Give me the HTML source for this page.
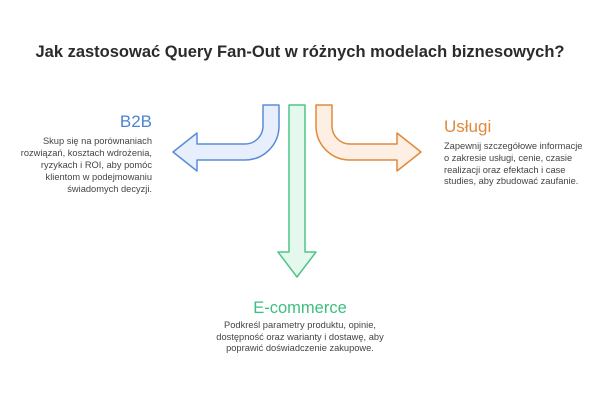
<!DOCTYPE html>
<html><head><meta charset="utf-8"><style>
html,body{margin:0;padding:0;background:#fff;}
svg{display:block;font-family:"Liberation Sans",sans-serif;}
</style></head><body>
<svg width="600" height="402" viewBox="0 0 600 402" xmlns="http://www.w3.org/2000/svg">
<rect width="600" height="402" fill="#fff"/>
<text x="300" y="57" text-anchor="middle" font-size="16.5" font-weight="bold" fill="#2b2b2b">Jak zastosować Query Fan-Out w różnych modelach biznesowych?</text>
<!-- blue arrow -->
<path d="M263,105 L279,105 L279,126 A34,34 0 0 1 245,160 L197,160 L197,171 L173,152 L197,133 L197,144 L245,144 A18,18 0 0 0 263,126 Z" fill="#e8effc" stroke="#5b8bd8" stroke-width="1.5" stroke-linejoin="round"/>
<!-- orange arrow -->
<path d="M332,105 L316,105 L316,126 A34,34 0 0 0 350,160 L397,160 L397,171 L421,152 L397,133 L397,144 L350,144 A18,18 0 0 1 332,126 Z" fill="#fdefe4" stroke="#e08a3c" stroke-width="1.5" stroke-linejoin="round"/>
<!-- green arrow -->
<path d="M289,105 L305,105 L305,252 L316,252 L297,277 L278,252 L289,252 Z" fill="#e4f8ee" stroke="#4fc487" stroke-width="1.5" stroke-linejoin="round"/>
<text x="152" y="127" text-anchor="end" font-size="17" fill="#4a84d6">B2B</text>
<g font-size="9.3" fill="#444" text-anchor="end">
<text x="152" y="144">Skup się na porównaniach</text>
<text x="152" y="156">rozwiązań, kosztach wdrożenia,</text>
<text x="152" y="168">ryzykach i ROI, aby pomóc</text>
<text x="152" y="180">klientom w podejmowaniu</text>
<text x="152" y="192">świadomych decyzji.</text>
</g>
<text x="444" y="132" font-size="17" fill="#e08a3c">Usługi</text>
<g font-size="9.3" fill="#444">
<text x="444" y="149">Zapewnij szczegółowe informacje</text>
<text x="444" y="161">o zakresie usługi, cenie, czasie</text>
<text x="444" y="173">realizacji oraz efektach i case</text>
<text x="444" y="184">studies, aby zbudować zaufanie.</text>
</g>
<text x="300" y="313" text-anchor="middle" font-size="16.5" fill="#3dbf7e">E-commerce</text>
<g font-size="9.3" fill="#444" text-anchor="middle">
<text x="300" y="328">Podkreśl parametry produktu, opinie,</text>
<text x="300" y="340">dostępność oraz warianty i dostawę, aby</text>
<text x="300" y="351">poprawić doświadczenie zakupowe.</text>
</g>
</svg>
</body></html>
